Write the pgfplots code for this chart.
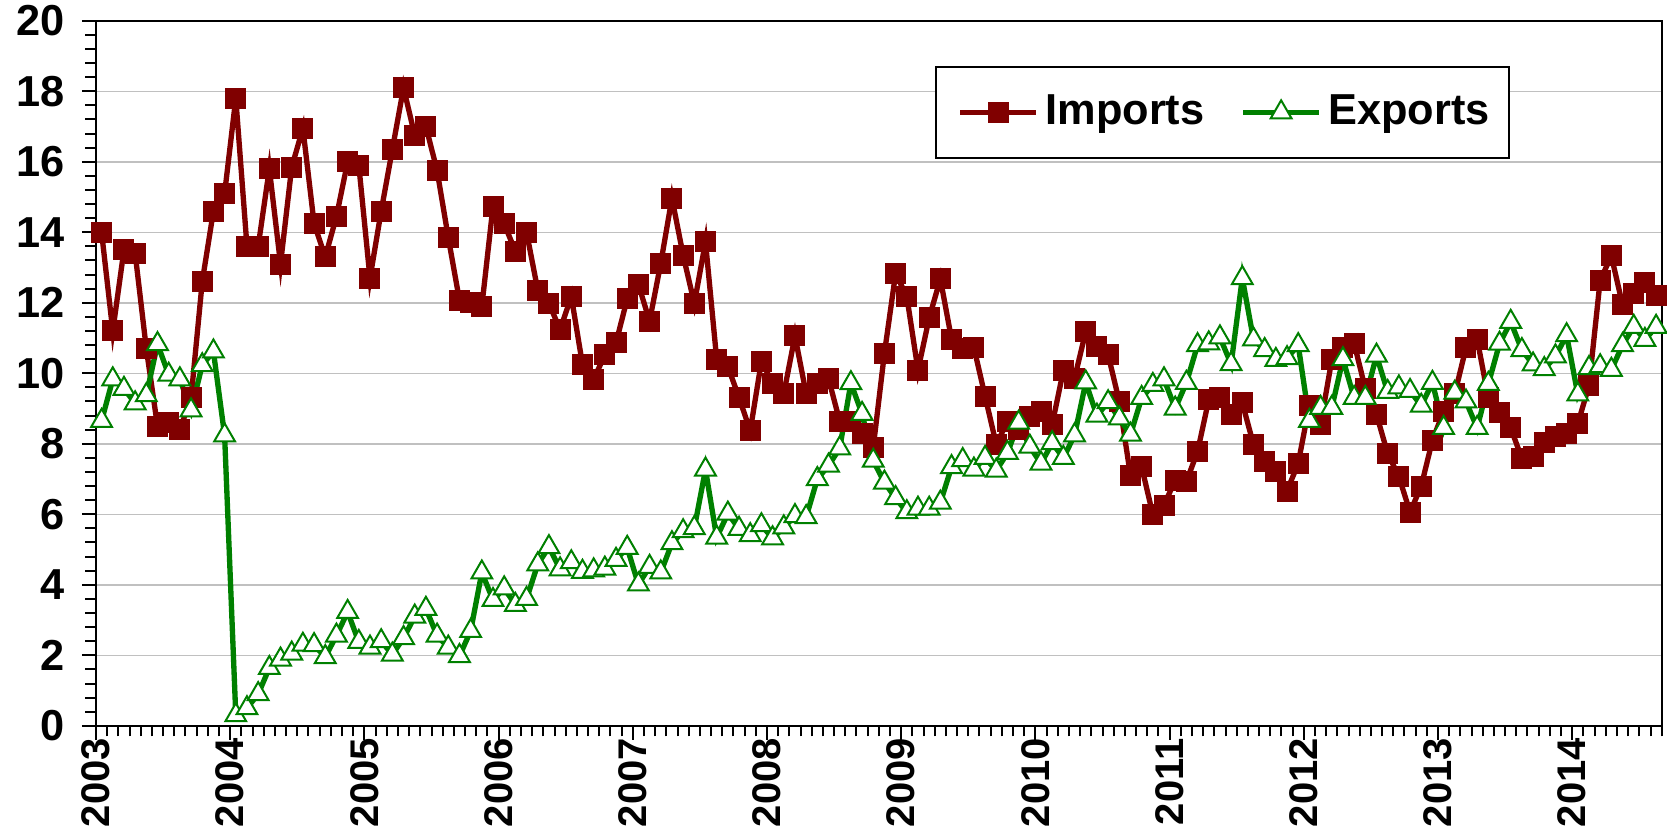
\documentclass[border=0pt]{standalone}
\usepackage{fontspec}
\setmainfont{Liberation Sans}
\usepackage{pgfplots}
\usepackage{pgfplotstable}
\pgfplotsset{compat=1.18}
\definecolor{impc}{RGB}{128,0,0}
\definecolor{expc}{RGB}{0,128,0}
\definecolor{gridc}{RGB}{192,192,192}

\pgfplotstableread{
i imp exp
0 14.0 8.65
1 11.2 9.83
2 13.5 9.56
3 13.4 9.15
4 10.7 9.38
5 8.5 10.83
6 8.6 9.96
7 8.4 9.83
8 9.3 8.95
9 12.6 10.23
10 14.6 10.62
11 15.1 8.24
12 17.8 0.3
13 13.6 0.5
14 13.6 0.9
15 15.8 1.64
16 13.1 1.88
17 15.85 2.05
18 16.95 2.3
19 14.25 2.29
20 13.3 1.95
21 14.45 2.56
22 16.0 3.23
23 15.9 2.38
24 12.7 2.22
25 14.6 2.4
26 16.35 2.02
27 18.1 2.49
28 16.75 3.1
29 17.0 3.32
30 15.75 2.56
31 13.85 2.22
32 12.07 1.98
33 12.02 2.69
34 11.9 4.35
35 14.74 3.57
36 14.24 3.9
37 13.46 3.43
38 14.0 3.6
39 12.36 4.58
40 11.98 5.07
41 11.24 4.44
42 12.18 4.64
43 10.25 4.37
44 9.83 4.41
45 10.52 4.46
46 10.87 4.71
47 12.11 5.05
48 12.52 4.01
49 11.48 4.51
50 13.12 4.35
51 14.97 5.18
52 13.35 5.52
53 11.98 5.61
54 13.73 7.27
55 10.4 5.34
56 10.19 6.02
57 9.31 5.59
58 8.37 5.41
59 10.34 5.69
60 9.72 5.32
61 9.42 5.63
62 11.06 5.95
63 9.42 5.92
64 9.72 7.0
65 9.85 7.38
66 8.64 7.87
67 8.64 9.72
68 8.28 8.85
69 7.9 7.52
70 10.57 6.9
71 12.83 6.46
72 12.18 6.06
73 10.09 6.16
74 11.57 6.16
75 12.68 6.33
76 10.97 7.34
77 10.7 7.54
78 10.73 7.27
79 9.35 7.6
80 7.98 7.24
81 8.63 7.74
82 8.4 8.6
83 8.78 7.92
84 8.92 7.44
85 8.55 8.02
86 10.08 7.6
87 9.86 8.24
88 11.18 9.74
89 10.77 8.8
90 10.53 9.18
91 9.2 8.72
92 7.1 8.26
93 7.35 9.3
94 5.99 9.67
95 6.26 9.83
96 6.97 9.0
97 6.93 9.73
98 7.78 10.8
99 9.25 10.85
100 9.3 11.02
101 8.82 10.26
102 9.16 12.7
103 7.98 10.96
104 7.5 10.66
105 7.2 10.38
106 6.66 10.43
107 7.45 10.8
108 9.1 8.65
109 8.55 9.02
110 10.38 9.02
111 10.74 10.4
112 10.85 9.3
113 9.56 9.3
114 8.83 10.5
115 7.72 9.47
116 7.07 9.6
117 6.06 9.5
118 6.8 9.08
119 8.1 9.73
120 8.92 8.45
121 9.42 9.45
122 10.72 9.2
123 10.97 8.45
124 9.3 9.7
125 8.9 10.84
126 8.45 11.46
127 7.58 10.66
128 7.63 10.25
129 8.03 10.12
130 8.22 10.48
131 8.3 11.08
132 8.57 9.4
133 9.65 10.15
134 12.64 10.2
135 13.33 10.1
136 11.94 10.8
137 12.25 11.32
138 12.58 10.95
139 12.2 11.32
}\data

\begin{document}
\begin{tikzpicture}
\useasboundingbox (-28.8pt,-30.96pt) rectangle (471.3pt,217.74pt);
\begin{axis}[
  scale only axis,
  width=469.7pt, height=211.5pt,
  xmin=0, xmax=140, ymin=0, ymax=20,
  axis line style={black, line width=0.6pt},
  xtick={0,12,24,36,48,60,72,84,96,108,120,132},
  xticklabels={2003,2004,2005,2006,2007,2008,2009,2010,2011,2012,2013,2014},
  minor xtick={0,1,...,140},
  ytick={0,2,...,20},
  minor y tick num=4,
  tick pos=left,
  tick align=outside,
  major tick length=4.2pt,
  minor tick length=3.2pt,
  tick style={black, line width=0.6pt},
  ymajorgrids,
  major grid style={gridc, line width=0.45pt},
  /pgf/number format/assume math mode=true,
  yticklabel style={font=\fontsize{13}{15}\selectfont\bfseries},
  yticklabel shift=1.6pt,
  xticklabel style={rotate=90, anchor=east, font=\fontsize{12}{14}\selectfont\bfseries},
  xticklabel shift=-4pt,
  legend columns=2,
  legend cell align=left,
  legend style={at={(rel axis cs:0.903,0.936)}, anchor=north east,
    draw=black, line width=0.6pt,
    font=\fontsize{13}{15}\selectfont\bfseries,
    inner xsep=3.7pt, inner ysep=6.4pt,
    /tikz/every even column/.append style={column sep=6pt}},
  legend image code/.code={\path (0pt,0pt); \draw[mark repeat=2,mark phase=2] plot coordinates {(2.8pt,0pt) (14.2pt,0pt) (25.6pt,0pt)};},
]
\addplot[color=impc, line width=1.6pt, mark=square*, mark size=3.0pt,
  mark options={solid, fill=impc, draw=impc, line width=0.3pt}]
  table[x expr=\thisrow{i}+0.5, y=imp] {\data};
\addlegendentry{Imports}
\addplot[color=expc, line width=1.6pt, mark=triangle*, mark size=3.6pt,
  mark options={solid, fill=white, draw=expc, line width=0.6pt}]
  table[x expr=\thisrow{i}+0.5, y=exp] {\data};
\addlegendentry{Exports}
\end{axis}
\end{tikzpicture}
\end{document}
